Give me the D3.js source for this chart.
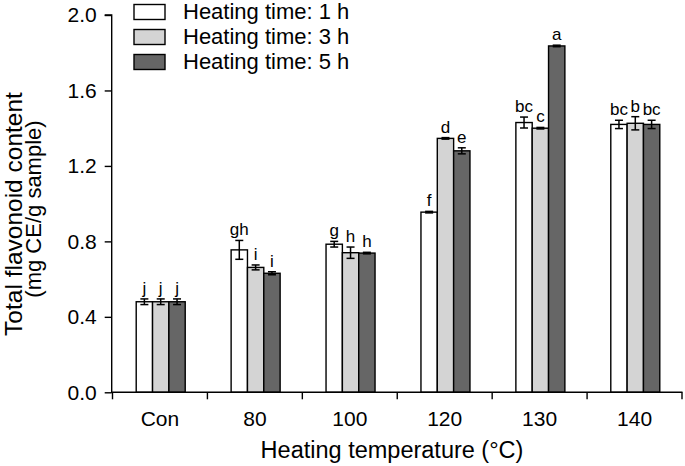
<!DOCTYPE html>
<html><head><meta charset="utf-8">
<script src="https://cdn.jsdelivr.net/npm/d3@7"></script>
<style>body{margin:0;background:#fff}svg{display:block}text{font-family:Arial,"Liberation Sans",Helvetica,sans-serif;fill:#000}</style>
</head><body>
<script>
const categories = ["Con","80","100","120","130","140"];
const seriesNames = ["Heating time: 1 h","Heating time: 3 h","Heating time: 5 h"];
const values1h = [0.48, 0.755, 0.785, 0.955, 1.43, 1.42];
const values3h = [0.48, 0.662, 0.74, 1.346, 1.40, 1.426];
const values5h = [0.48, 0.631, 0.738, 1.28, 1.836, 1.42];
const err1h = [0.015, 0.05, 0.015, 0.004, 0.029, 0.022];
const err3h = [0.015, 0.013, 0.03, 0.004, 0.004, 0.035];
const err5h = [0.015, 0.008, 0.004, 0.016, 0.004, 0.022];
const letters1h = ["j","gh","g","f","bc","bc"];
const letters3h = ["j","i","h","d","c","b"];
const letters5h = ["j","i","h","e","a","bc"];
const yTicks = [0.0, 0.4, 0.8, 1.2, 1.6, 2.0];
const colors = ["#ffffff","#d4d4d4","#666666"];

const W = 685, H = 466;
const svg = d3.select("body").append("svg").attr("width", W).attr("height", H);

const x0 = d3.scaleBand().domain(categories).range([112.5, 682]).paddingInner(0).paddingOuter(0);
const groupW = 49;
const x1 = d3.scaleBand().domain([0,1,2]).range([0, groupW]);
const y = d3.scaleLinear().domain([0, 2.0]).range([392.3, 15]);

const series = [values1h, values3h, values5h].map((vals, s) => ({
  s, vals, errs: [err1h, err3h, err5h][s], labs: [letters1h, letters3h, letters5h][s]
}));

const data = [];
series.forEach(se => categories.forEach((c, i) => data.push({
  c, s: se.s, v: se.vals[i], e: se.errs[i], l: se.labs[i]
})));
const bx = d => x0(d.c) + (x0.bandwidth() - groupW) / 2 + x1(d.s);

// bars
svg.append("g").selectAll("rect").data(data).enter().append("rect")
  .attr("x", d => bx(d) + 0.75)
  .attr("y", d => y(d.v))
  .attr("width", x1.bandwidth())
  .attr("height", d => y(0) - y(d.v))
  .attr("fill", d => colors[d.s])
  .attr("stroke", "#000").attr("stroke-width", 1.4);

// error bars
const eg = svg.append("g").attr("stroke", "#000").attr("stroke-width", 1.5);
data.forEach(d => {
  const cx = bx(d) + 0.75 + x1.bandwidth() / 2;
  eg.append("line").attr("x1", cx).attr("x2", cx).attr("y1", y(d.v + d.e)).attr("y2", y(d.v - d.e));
  eg.append("line").attr("x1", cx - 4).attr("x2", cx + 4).attr("y1", y(d.v + d.e)).attr("y2", y(d.v + d.e));
  eg.append("line").attr("x1", cx - 4).attr("x2", cx + 4).attr("y1", y(d.v - d.e)).attr("y2", y(d.v - d.e));
});

// letters
svg.append("g").selectAll("text").data(data).enter().append("text")
  .attr("x", d => bx(d) + 0.75 + x1.bandwidth() / 2)
  .attr("y", d => y(d.v + d.e) - 5)
  .attr("text-anchor", "middle")
  .style("font-size", "17px")
  .text(d => d.l);

// y axis
const yAxis = svg.append("g").attr("transform", "translate(111.7,0)")
  .call(d3.axisLeft(y).tickValues(yTicks).tickFormat(d3.format(".1f")).tickSize(7).tickPadding(8));
yAxis.select(".domain").attr("d", `M-7,${y(2)}H0V${y(0)}`).attr("stroke-width", 1.4);
yAxis.selectAll(".tick line").attr("stroke-width", 1.4);
yAxis.selectAll(".tick text").style("font-size", "21px").attr("fill", "#000");

// x axis
const xAxis = svg.append("g").attr("transform", `translate(0,${y(0)})`)
  .call(d3.axisBottom(x0).tickSize(0).tickPadding(19));
xAxis.select(".domain").attr("d", `M111,0H682.5`).attr("stroke-width", 1.4);
xAxis.selectAll(".tick text").style("font-size", "21px").attr("fill", "#000");
const boundaries = categories.map(c => x0(c)).concat([x0(categories[categories.length - 1]) + x0.bandwidth()]);
xAxis.selectAll(".bt").data(boundaries).enter().append("line")
  .attr("x1", d => d).attr("x2", d => d).attr("y1", 0).attr("y2", 7)
  .attr("stroke", "#000").attr("stroke-width", 1.4);

// axis titles
svg.append("text").attr("x", 392).attr("y", 458).attr("text-anchor", "middle")
  .style("font-size", "23.5px").text("Heating temperature (\u00b0C)");
svg.append("text").attr("transform", "translate(21.5,214) rotate(-90)").attr("text-anchor", "middle")
  .style("font-size", "24.5px").text("Total flavonoid content");
svg.append("text").attr("transform", "translate(40.5,209) rotate(-90)").attr("text-anchor", "middle")
  .style("font-size", "22px").text("(mg CE/g sample)");

// legend
const lg = svg.append("g");
seriesNames.forEach((n, i) => {
  lg.append("rect").attr("x", 134).attr("y", 4.5 + i * 25).attr("width", 31).attr("height", 15)
    .attr("fill", colors[i]).attr("stroke", "#000").attr("stroke-width", 1.4);
  lg.append("text").attr("x", 183).attr("y", 19 + i * 25).style("font-size", "22px").text(n);
});
</script>
</body></html>
